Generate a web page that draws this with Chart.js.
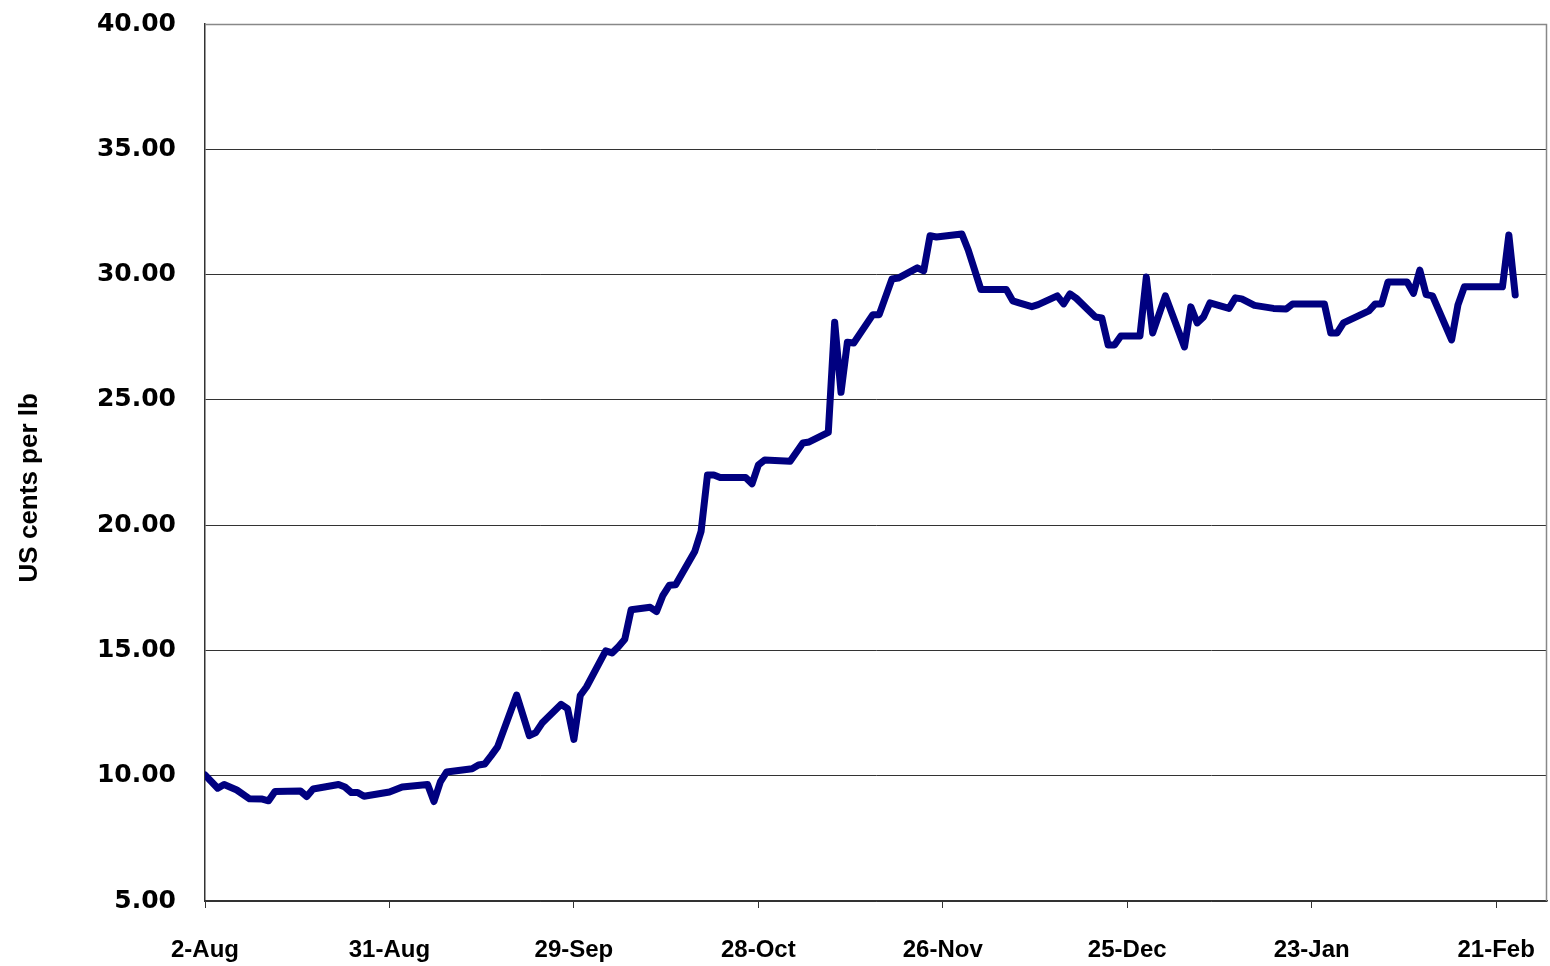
<!DOCTYPE html>
<html>
<head>
<meta charset="utf-8">
<script src="https://cdn.jsdelivr.net/npm/chart.js@4/dist/chart.umd.min.js"></script>
<style>
  html, body { margin: 0; padding: 0; background: #fff; }
  #wrap { width: 1550px; height: 966px; }
</style>
</head>
<body>
<div id="wrap"><canvas id="priceChart"></canvas></div>
<script>
// days counted from 2-Aug, price in US cents per lb
const days = [0,2,3,5,7,9,10,11,15,16,17,21,22,23,24,25,29,31,35,36,37,38,42,43,44,45,46,49,51,52,53,56,57,58,59,60,63,64,65,66,67,70,71,72,73,74,77,78,79,80,81,85,86,87,88,92,94,95,98,99,100,101,102,105,106,108,109,112,113,114,115,119,120,122,126,127,128,130,131,134,135,136,137,140,141,142,143,144,147,148,149,151,154,155,156,157,158,161,162,163,165,168,170,171,176,177,178,179,183,184,185,186,189,190,191,192,193,196,197,198,204,205,206];
const cents = [10.03,9.5,9.65,9.43,9.08,9.07,9.0,9.37,9.39,9.17,9.47,9.65,9.55,9.33,9.33,9.18,9.35,9.55,9.65,8.97,9.75,10.15,10.28,10.43,10.47,10.8,11.15,13.22,11.6,11.72,12.1,12.85,12.68,11.45,13.2,13.55,14.98,14.9,15.15,15.45,16.62,16.72,16.55,17.2,17.6,17.62,18.95,19.75,22.0,22.0,21.9,21.9,21.65,22.4,22.6,22.55,23.28,23.32,23.7,28.1,25.3,27.3,27.27,28.4,28.4,29.82,29.86,30.27,30.15,31.55,31.5,31.62,30.98,29.4,29.4,28.95,28.87,28.72,28.8,29.15,28.83,29.23,29.05,28.31,28.27,27.19,27.19,27.55,27.55,29.9,27.67,29.15,27.11,28.71,28.07,28.31,28.87,28.65,29.07,29.03,28.77,28.65,28.63,28.83,28.83,27.67,27.67,28.07,28.55,28.83,28.83,29.7,29.7,29.25,30.18,29.2,29.15,27.39,28.79,29.51,29.51,31.58,29.19];
const xTickLabels = ['2-Aug','31-Aug','29-Sep','28-Oct','26-Nov','25-Dec','23-Jan','21-Feb'];
const tickStep = 29;

const points = days.map((d, i) => ({x: d, y: cents[i]}));

// box round the plot, right and top edges
const frame = {
  id: 'frame',
  afterDraw(chart) {
    const a = chart.chartArea, c = chart.ctx;
    c.save();
    c.strokeStyle = '#888';
    c.lineWidth = 1.5;
    c.beginPath();
    c.moveTo(a.left, a.top + 0.5);
    c.lineTo(a.right - 0.5, a.top + 0.5);
    c.lineTo(a.right - 0.5, a.bottom);
    c.stroke();
    c.restore();
  }
};

new Chart(document.getElementById('priceChart'), {
  type: 'line',
  data: {
    datasets: [{
      data: points,
      borderColor: '#000080',
      borderWidth: 7,
      borderJoinStyle: 'round',
      borderCapStyle: 'round',
      pointRadius: 0,
      tension: 0,
      fill: false
    }]
  },
  options: {
    responsive: true,
    maintainAspectRatio: false,
    animation: false,
    layout: { padding: { top: 24, right: 3, left: 0, bottom: 0 } },
    plugins: { legend: { display: false }, tooltip: { enabled: false } },
    scales: {
      x: {
        type: 'linear',
        min: 0,
        max: 211,
        afterBuildTicks: s => { s.ticks = xTickLabels.map((_, i) => ({ value: i * tickStep })); },
        afterFit: s => { s.height = 65; s.paddingLeft = 0; s.paddingRight = 0; },
        grid: { color: 'rgba(0,0,0,0)', tickColor: '#333', tickLength: 7, drawOnChartArea: false },
        border: { color: '#333', width: 1.5 },
        ticks: {
          autoSkip: false,
          maxRotation: 0,
          padding: 28,
          color: '#000',
          font: { family: '"Liberation Sans Narrow", "Liberation Sans", Arial', weight: 'bold', size: 24 },
          callback: v => xTickLabels[Math.round(v / tickStep)]
        }
      },
      y: {
        min: 5,
        max: 40,
        afterFit: s => { s.width = 205; s.paddingTop = 0; s.paddingBottom = 0; },
        grid: { color: '#333', lineWidth: 1, drawTicks: false },
        border: { color: '#333', width: 1.5 },
        ticks: {
          stepSize: 5,
          padding: 29,
          color: '#000',
          font: { family: '"DejaVu Sans"', weight: 'bold', size: 25 },
          callback: v => v.toFixed(2)
        },
        title: {
          display: true,
          text: 'US cents per lb       ',
          color: '#000',
          padding: { top: 14, bottom: 0 },
          font: { family: '"Liberation Sans", Arial', weight: 'bold', size: 26 }
        }
      }
    }
  },
  plugins: [frame]
});
</script>
</body>
</html>
